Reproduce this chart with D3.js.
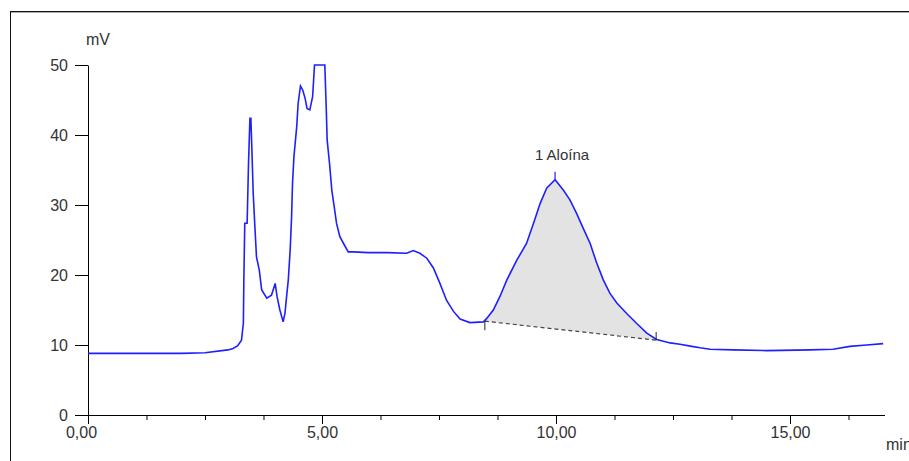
<!DOCTYPE html>
<html>
<head>
<meta charset="utf-8">
<script src="https://d3js.org/d3.v7.min.js"></script>
<style>
  body { margin: 0; background: #fff; }
  svg text { font-family: Arial, "Liberation Sans", sans-serif; fill: #333; }
</style>
</head>
<body>
<svg id="svgMain" width="909" height="461"></svg>
<script>
// chromatogram trace (min, mV)
const times = [0, 0.5, 1, 1.5, 2, 2.5, 2.99, 3.1, 3.2, 3.28, 3.32, 3.33, 3.35, 3.40, 3.43, 3.46, 3.48, 3.50, 3.53, 3.57, 3.60, 3.66, 3.71, 3.82, 3.92, 4.00, 4.04, 4.10, 4.17, 4.21, 4.24, 4.28, 4.32, 4.35, 4.37, 4.40, 4.46, 4.49, 4.54, 4.59, 4.64, 4.68, 4.74, 4.80, 4.84, 5.06, 5.09, 5.11, 5.16, 5.21, 5.26, 5.31, 5.38, 5.46, 5.56, 5.67, 5.99, 6.4, 6.81, 6.95, 7.09, 7.24, 7.38, 7.52, 7.66, 7.81, 7.95, 8.16, 8.45, 8.52, 8.66, 8.80, 8.95, 9.16, 9.37, 9.52, 9.66, 9.80, 9.98, 10.16, 10.30, 10.44, 10.58, 10.73, 10.87, 11.01, 11.15, 11.30, 11.51, 11.72, 11.94, 12.15, 12.44, 12.65, 12.9, 13.08, 13.29, 13.78, 14.5, 15.43, 15.92, 16.28, 16.64, 16.99];
const mv = [8.8, 8.8, 8.8, 8.8, 8.8, 8.9, 9.3, 9.5, 9.9, 10.7, 13.1, 19.3, 27.4, 27.4, 36, 42.4, 42.4, 38.3, 31.7, 26.4, 22.6, 20.7, 17.9, 16.7, 17.1, 18.8, 16.9, 15, 13.3, 14.6, 16.7, 19.3, 23.6, 28.3, 33.1, 36.9, 41.2, 44.5, 47, 46.4, 45.2, 43.8, 43.6, 45.5, 50, 50, 44, 39.3, 36, 32.1, 29.8, 27.4, 25.5, 24.5, 23.3, 23.3, 23.2, 23.2, 23.1, 23.5, 23.1, 22.4, 21, 18.8, 16.4, 14.8, 13.7, 13.2, 13.3, 13.8, 15, 16.9, 19.3, 22.1, 24.5, 27.4, 30.2, 32.4, 33.6, 32.1, 30.7, 28.8, 26.7, 24.5, 21.7, 19.3, 17.4, 16, 14.5, 13.1, 11.7, 10.8, 10.3, 10.1, 9.8, 9.6, 9.4, 9.3, 9.2, 9.3, 9.4, 9.8, 10.0, 10.2];

// integrated peak
const peakName = "1 Aloína";
const peakStart = [8.48, 13.4];
const peakApex = [9.98, 33.6];
const peakEnd = [12.14, 10.7];

const yTicks = [0, 10, 20, 30, 40, 50];
const xMajor = [0, 5, 10, 15];
const xMinor = d3.range(0, 17.01, 1.25);

const svg = d3.select("#svgMain");

// frame around the chart (continues beyond the window)
svg.append("rect")
    .attr("x", 10.5).attr("y", 11.5)
    .attr("width", 1000).attr("height", 1000)
    .attr("fill", "none").attr("stroke", "#111");
svg.append("line")
    .attr("x1", 11).attr("x2", 909).attr("y1", 12.5).attr("y2", 12.5)
    .attr("stroke", "#aaa");

const x = d3.scaleLinear().domain([0, 17.03]).range([88, 885]);
const y = d3.scaleLinear().domain([0, 50]).range([415, 65]);

const fmt = d => d.toFixed(2).replace(".", ",");

// y axis
const yAxis = svg.append("g")
    .attr("transform", "translate(88,0)")
    .call(d3.axisLeft(y).tickValues(yTicks).tickSize(13).tickSizeOuter(0).tickPadding(7));
yAxis.selectAll("text").style("font-size", "16px");

svg.append("text")
    .attr("x", 98).attr("y", 45)
    .attr("text-anchor", "middle")
    .style("font-size", "16px")
    .text("mV");

// x axis: minor ticks, then major labelled ticks
svg.append("g")
    .attr("transform", "translate(0,415)")
    .call(d3.axisBottom(x).tickValues(xMinor).tickSize(5).tickSizeOuter(0).tickFormat(""))
    .select(".domain").remove();

const xAxis = svg.append("g")
    .attr("transform", "translate(0,415)")
    .call(d3.axisBottom(x).tickValues(xMajor).tickSize(9).tickSizeOuter(0).tickPadding(3).tickFormat(fmt));
xAxis.selectAll("text").style("font-size", "16px");
xAxis.selectAll(".tick").filter(d => d === 0).select("text").attr("dx", -7);
xAxis.select(".domain").attr("d", "M88,0.5H885");

svg.append("text")
    .attr("x", 886).attr("y", 450)
    .style("font-size", "16px")
    .text("min");

// shaded peak area between trace and baseline
const points = times.map((t, i) => [t, mv[i]]);
const base = d3.scaleLinear().domain([peakStart[0], peakEnd[0]]).range([peakStart[1], peakEnd[1]]);
const inside = points.filter(p => p[0] > peakStart[0] && p[0] < peakEnd[0]);
const areaPts = [peakStart].concat(inside, [peakEnd]);

svg.append("path")
    .datum(areaPts)
    .attr("fill", "#e3e3e3")
    .attr("d", d3.area()
        .x(d => x(d[0]))
        .y0(d => y(base(d[0])))
        .y1(d => y(d[1])));

svg.append("line")
    .attr("x1", x(peakStart[0])).attr("y1", y(peakStart[1]))
    .attr("x2", x(peakEnd[0])).attr("y2", y(peakEnd[1]))
    .attr("stroke", "#444").attr("stroke-width", 1.2)
    .attr("stroke-dasharray", "4,3");

// trace
svg.append("path")
    .datum(points)
    .attr("fill", "none")
    .attr("stroke", "#1f1fff")
    .attr("stroke-width", 1.6)
    .attr("d", d3.line().x(d => x(d[0])).y(d => y(d[1])));

// peak markers
svg.append("line")
    .attr("x1", x(peakStart[0])).attr("x2", x(peakStart[0]))
    .attr("y1", y(peakStart[1])).attr("y2", y(peakStart[1]) + 9)
    .attr("stroke", "#222");
svg.append("line")
    .attr("x1", x(peakEnd[0])).attr("x2", x(peakEnd[0]))
    .attr("y1", y(peakEnd[1])).attr("y2", y(peakEnd[1]) - 8)
    .attr("stroke", "#222");
svg.append("line")
    .attr("x1", x(peakApex[0])).attr("x2", x(peakApex[0]))
    .attr("y1", y(peakApex[1])).attr("y2", y(peakApex[1]) - 8)
    .attr("stroke", "#1f1fff").attr("stroke-width", 1.2);

svg.append("text")
    .attr("x", x(peakApex[0]) + 7).attr("y", y(peakApex[1]) - 20)
    .attr("text-anchor", "middle")
    .style("font-size", "15px")
    .text(peakName);
</script>
</body>
</html>
